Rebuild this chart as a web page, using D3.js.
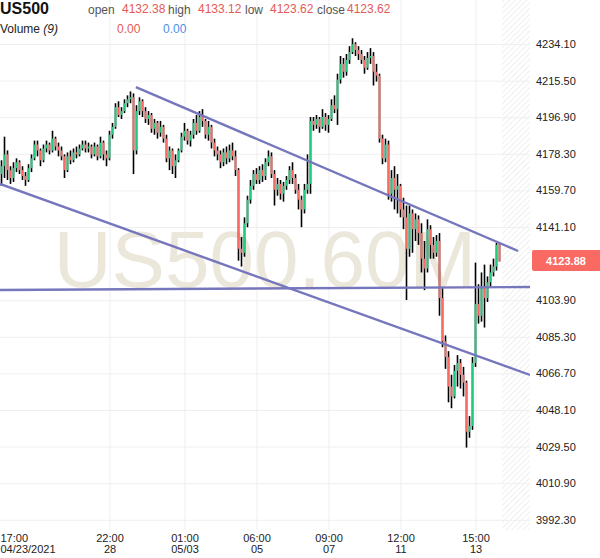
<!DOCTYPE html>
<html>
<head>
<meta charset="utf-8">
<script src="https://cdn.jsdelivr.net/npm/d3@7"></script>
<style>
body { margin: 0; background: #fff; }
text { font-family: "Liberation Sans", Arial, sans-serif; }
</style>
</head>
<body>
<script>
// hourly candles
var opens = [4168,4172,4178,4170,4166,4171,4174,4170,4167,4165,4171,4176,4183,4180,4175,4181,4183,4180,4186,4182,
  4180,4177,4170,4177,4175,4179,4178,4181,4183,4181,4182,4178,4182,4177,4184,4178,4176,4188,4192,4202,
  4198,4200,4204,4206,4207,4180,4200,4205,4200,4196,4198,4191,4194,4189,4192,4186,4176,4180,4172,4175,
  4180,4187,4190,4185,4188,4194,4190,4197,4195,4188,4192,4184,4180,4178,4174,4179,4176,4180,4177,4170,
  4130,4128,4143,4155,4162,4168,4165,4170,4167,4174,4177,4168,4160,4163,4158,4162,4165,4170,4166,4160,
  4155,4150,4160,4163,4195,4193,4196,4192,4197,4193,4196,4203,4201,4216,4224,4220,4226,4230,4234,4231,
  4229,4226,4222,4227,4228,4220,4218,4186,4176,4183,4158,4166,4160,4162,4150,4146,4130,4148,4140,4145,
  4138,4125,4120,4140,4132,4128,4134,4105,4083,4075,4060,4055,4068,4072,4066,4062,4037,4040,4072,4102,
  4096,4110,4105,4113,4118,4121,4132.38];
var highs = [4175,4187,4180,4172,4174,4176,4175,4172,4169,4173,4178,4185,4185,4181,4183,4185,4184,4190,4187,4184,
  4182,4178,4179,4180,4181,4182,4183,4185,4185,4184,4183,4184,4183,4187,4185,4180,4190,4194,4204,4205,
  4202,4206,4208,4210,4209,4203,4207,4206,4202,4200,4199,4196,4195,4195,4193,4188,4182,4181,4178,4181,
  4189,4194,4191,4190,4196,4198,4200,4201,4196,4195,4193,4186,4182,4180,4181,4182,4183,4184,4180,4171,
  4136,4146,4157,4165,4170,4171,4172,4173,4176,4180,4179,4170,4166,4165,4164,4167,4172,4174,4168,4163,
  4157,4163,4178,4197,4197,4198,4197,4201,4199,4198,4206,4208,4219,4228,4227,4229,4233,4237,4235,4233,
  4231,4228,4230,4232,4230,4224,4219,4188,4186,4185,4170,4172,4168,4163,4156,4152,4152,4150,4148,4147,
  4143,4134,4145,4142,4136,4137,4138,4110,4086,4078,4066,4071,4076,4074,4070,4063,4045,4075,4123,4112,
  4118,4122,4116,4122,4125,4133,4133.12];
var lows = [4162,4166,4165,4163,4164,4169,4168,4165,4162,4164,4169,4175,4177,4172,4174,4179,4178,4179,4180,4177,
  4175,4166,4169,4173,4174,4176,4177,4180,4179,4179,4176,4177,4175,4176,4175,4172,4175,4186,4191,4197,
  4196,4199,4202,4204,4168,4178,4198,4197,4194,4193,4189,4188,4186,4187,4184,4174,4170,4168,4166,4174,
  4179,4185,4183,4182,4186,4188,4189,4192,4186,4185,4181,4177,4175,4171,4172,4173,4174,4175,4167,4124,
  4121,4126,4141,4153,4160,4163,4163,4164,4165,4172,4166,4152,4157,4155,4154,4160,4163,4163,4158,4150,
  4141,4148,4158,4158,4190,4191,4189,4191,4190,4189,4195,4199,4193,4214,4217,4218,4224,4229,4228,4226,
  4224,4219,4221,4224,4213,4215,4184,4173,4174,4155,4154,4150,4148,4146,4140,4104,4126,4128,4134,4132,
  4118,4109,4118,4125,4125,4126,4096,4080,4069,4052,4049,4054,4060,4059,4055,4029,4034,4038,4070,4092,
  4093,4090,4103,4111,4116,4119,4123.62];
var closes = [4172,4178,4170,4166,4171,4174,4170,4167,4165,4171,4176,4183,4180,4175,4181,4183,4180,4186,4182,4180,
  4177,4170,4177,4175,4179,4178,4181,4183,4181,4182,4178,4182,4177,4184,4178,4176,4188,4192,4202,4198,
  4200,4204,4206,4207,4180,4200,4205,4200,4196,4198,4191,4194,4189,4192,4186,4176,4180,4172,4175,4180,
  4187,4190,4185,4188,4194,4190,4197,4195,4188,4192,4184,4180,4178,4174,4179,4176,4180,4177,4170,4130,
  4128,4143,4155,4162,4168,4165,4170,4167,4174,4177,4168,4160,4163,4158,4162,4165,4170,4166,4160,4155,
  4150,4160,4163,4195,4193,4196,4192,4197,4193,4196,4203,4201,4216,4224,4220,4226,4230,4234,4231,4229,
  4226,4222,4227,4228,4220,4218,4186,4176,4183,4158,4166,4160,4162,4150,4146,4130,4148,4140,4145,4138,
  4125,4120,4140,4132,4128,4134,4105,4083,4075,4060,4055,4068,4072,4066,4062,4037,4040,4072,4102,4096,
  4110,4105,4113,4118,4121,4132,4123.62];

var yTicks = [4234.10, 4215.50, 4196.90, 4178.30, 4159.70, 4141.10, 4103.90, 4085.30, 4066.70, 4048.10, 4029.50, 4010.90, 3992.30];
var xTickIdx = [0, 36, 61, 85, 109, 133, 158];
var xTickTime = ['17:00', '22:00', '01:00', '06:00', '09:00', '12:00', '15:00'];
var xTickDate = ['04/23/2021', '28', '05/03', '05', '07', '11', '13'];

// drawn trend lines: [bar index, price] pairs
var trendLines = [
  [[44.8, 4212.2], [172.2, 4128.9]],
  [[-0.5, 4163.0], [176.2, 4065.9]],
  [[-0.5, 4109.1], [176.2, 4110.6]]
];
var lastPrice = 4123.88;

var width = 600;
var height = 558;
var plotRight = 530;
var plotBottom = 530;

var svg = d3.select('body').append('svg')
    .attr('width', width)
    .attr('height', height);

var x = d3.scaleLinear().domain([0, closes.length - 1]).range([1.5, 499.5]);
var y = d3.scaleLinear().domain([3992.3, 4234.1]).range([519.8, 44]);

var defs = svg.append('defs');
var pat = defs.append('pattern')
    .attr('id', 'hatch')
    .attr('patternUnits', 'userSpaceOnUse')
    .attr('width', 4).attr('height', 4)
    .attr('patternTransform', 'rotate(45)');
pat.append('line')
    .attr('x1', 0).attr('y1', 0).attr('x2', 0).attr('y2', 4)
    .attr('stroke', '#e4e4e4').attr('stroke-width', 1.2);
defs.append('clipPath').attr('id', 'plotclip')
    .append('rect').attr('x', 0).attr('y', 0).attr('width', plotRight).attr('height', plotBottom);

// hatched future area
svg.append('rect')
    .attr('x', 502).attr('y', 0)
    .attr('width', plotRight - 502).attr('height', plotBottom)
    .attr('fill', 'url(#hatch)');

// grid
var gridY = svg.append('g')
    .call(d3.axisLeft(y).tickValues(yTicks).tickSize(-plotRight).tickFormat(''));
gridY.select('.domain').remove();
gridY.selectAll('line').attr('stroke', '#efefef');

var gridX = svg.append('g')
    .attr('transform', 'translate(0,' + plotBottom + ')')
    .call(d3.axisBottom(x).tickValues(xTickIdx.slice(1)).tickSize(-plotBottom).tickFormat(''));
gridX.select('.domain').remove();
gridX.selectAll('line').attr('stroke', '#efefef');

// watermark
svg.append('text')
    .attr('x', 265).attr('y', 287)
    .attr('text-anchor', 'middle')
    .style('font-size', '80px')
    .style('fill', '#ebe7da')
    .text('US500.60M');

// candles
var plot = svg.append('g').attr('clip-path', 'url(#plotclip)');
var bars = plot.selectAll('g.bar')
    .data(closes)
    .enter().append('g').attr('class', 'bar');

bars.append('line')
    .attr('x1', function(d, i) { return x(i); })
    .attr('x2', function(d, i) { return x(i); })
    .attr('y1', function(d, i) { return y(highs[i]); })
    .attr('y2', function(d, i) { return y(lows[i]); })
    .attr('stroke', '#000')
    .attr('stroke-width', 1.6);

bars.append('rect')
    .attr('x', function(d, i) { return x(i) - 0.9; })
    .attr('width', 1.8)
    .attr('y', function(d, i) { return y(Math.max(opens[i], d)); })
    .attr('height', function(d, i) { return Math.max(1, Math.abs(y(opens[i]) - y(d))); })
    .attr('fill', function(d, i) { return d >= opens[i] ? '#1ecb7d' : '#fa6a60'; });

// trend lines
var line = d3.line()
    .x(function(p) { return x(p[0]); })
    .y(function(p) { return y(p[1]); });
plot.selectAll('path.trend')
    .data(trendLines)
    .enter().append('path')
    .attr('class', 'trend')
    .attr('d', line)
    .attr('fill', 'none')
    .attr('stroke', '#7676bd')
    .attr('stroke-width', 2.4);

// right price axis
var yAxis = svg.append('g')
    .attr('transform', 'translate(' + plotRight + ',0)')
    .call(d3.axisRight(y).tickValues(yTicks).tickSize(0).tickPadding(6)
        .tickFormat(function(d) { return d.toFixed(2); }));
yAxis.select('.domain').remove();
yAxis.selectAll('text')
    .style('font-size', '11px')
    .style('font-family', '"Liberation Sans", Arial, sans-serif')
    .attr('fill', '#222');

// last price tag
var ly = y(lastPrice);
svg.append('rect')
    .attr('x', 532).attr('y', ly - 11)
    .attr('width', 70).attr('height', 21)
    .attr('rx', 2)
    .attr('fill', '#f96a63');
svg.append('text')
    .attr('x', 566).attr('y', ly + 4)
    .attr('text-anchor', 'middle')
    .style('font-size', '11px')
    .style('font-weight', 'bold')
    .style('fill', '#fff')
    .text(lastPrice.toFixed(2));

// time axis, two lines per tick
var xAxis = svg.append('g')
    .attr('transform', 'translate(0,' + plotBottom + ')')
    .call(d3.axisBottom(x).tickValues(xTickIdx).tickSize(0).tickFormat(''));
xAxis.select('.domain').remove();
xAxis.selectAll('.tick').each(function(d, k) {
    var tx = k === 0 ? -x(0) : 0;
    var g = d3.select(this);
    g.append('text')
        .attr('fill', '#222')
        .style('font-size', '11px')
        .attr('text-anchor', k === 0 ? 'start' : 'middle')
        .attr('x', tx).attr('y', 12)
        .text(xTickTime[k]);
    g.append('text')
        .attr('fill', '#222')
        .style('font-size', '11px')
        .attr('text-anchor', k === 0 ? 'start' : 'middle')
        .attr('x', tx).attr('y', 23)
        .text(xTickDate[k]);
});

// header
var hdr = svg.append('g');
hdr.append('text').attr('x', 0).attr('y', 14)
    .style('font-size', '16px').style('font-weight', 'bold').style('fill', '#111')
    .text('US500');
var labels = [['open', 88, 122, '4132.38'], ['high', 168, 198, '4133.12'],
              ['low', 245, 270, '4123.62'], ['close', 317, 347, '4123.62']];
labels.forEach(function(l) {
    hdr.append('text').attr('x', l[1]).attr('y', 14)
        .style('font-size', '12px').style('fill', '#555').text(l[0]);
    hdr.append('text').attr('x', l[2]).attr('y', 13)
        .style('font-size', '12px').style('fill', '#e35a55').text(l[3]);
});
var vol = hdr.append('text').attr('x', 0).attr('y', 33)
    .style('font-size', '12px').style('fill', '#222');
vol.append('tspan').text('Volume ');
vol.append('tspan').style('font-style', 'italic').text('(9)');
hdr.append('text').attr('x', 117).attr('y', 33)
    .style('font-size', '12px').style('fill', '#e35a55').text('0.00');
hdr.append('text').attr('x', 163).attr('y', 33)
    .style('font-size', '12px').style('fill', '#4f8fe6').text('0.00');
</script>
</body>
</html>
